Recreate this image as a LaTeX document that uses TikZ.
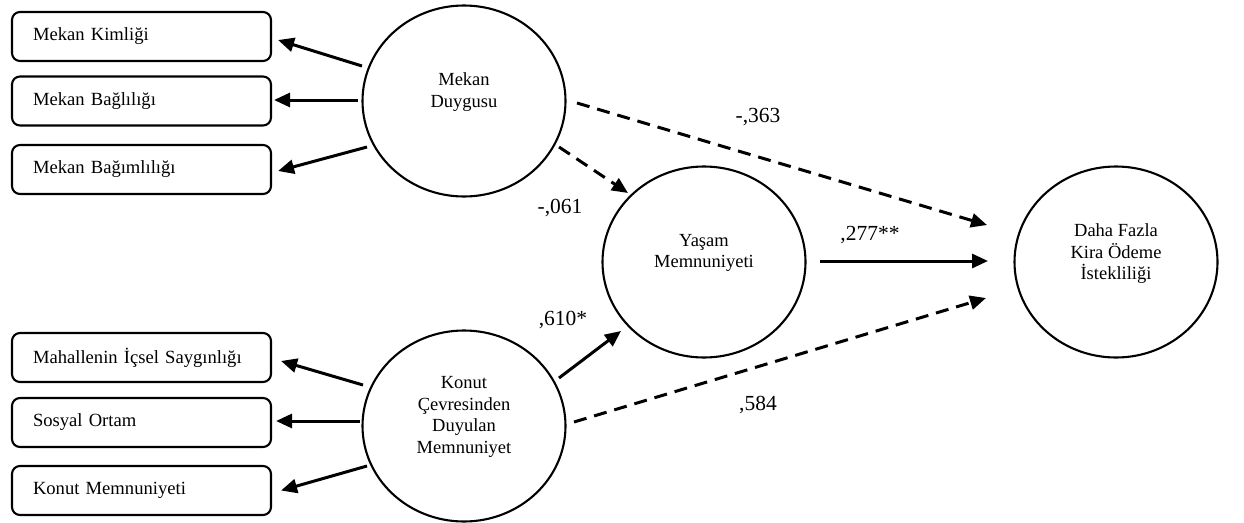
\documentclass[tikz,border=0pt]{standalone}
\usepackage{fontspec}
\setmainfont{Liberation Serif}
\usetikzlibrary{arrows.meta,shapes.geometric,calc}
\begin{document}
\begin{tikzpicture}[x=1pt,y=-1pt,
  itembox/.style={draw,line width=2.1pt,rounded corners=8pt,minimum height=49pt,
    text width=217pt,inner xsep=21pt,inner ysep=0pt,align=left,
    font=\fontsize{18.6}{22}\selectfont},
  latent/.style={draw,ellipse,line width=2.1pt,minimum width=203pt,
    minimum height=191pt,inner sep=0pt},
  lattext/.style={align=center,font=\fontsize{18.5}{21.5}\selectfont},
  coef/.style={font=\fontsize{21.5}{24}\selectfont,inner sep=0pt},
  path/.style={line width=3pt,-{Triangle[length=16pt,width=14pt]}},
  weak/.style={path,dash pattern=on 13pt off 8pt}
]
\useasboundingbox (0,0) rectangle (1244,522);

% indicator boxes
\node[itembox] (b1) at (141.5,36.5) {Mekan Kimliği};
\node[itembox] (b2) at (141.5,101) {Mekan Bağlılığı};
\node[itembox] (b3) at (141.5,169.5) {Mekan Bağımlılığı};
\node[itembox] (b4) at (141.5,357.5) {Mahallenin İçsel Saygınlığı};
\node[itembox] (b5) at (141.5,422.5) {Sosyal Ortam};
\node[itembox] (b6) at (141.5,490.5) {Konut Memnuniyeti};

% latent constructs
\node[latent,label={[lattext,yshift=9pt]center:Mekan\\Duygusu}] (md) at (464,101) {};
\node[latent,label={[lattext,yshift=9pt]center:Konut\\Çevresinden\\Duyulan\\Memnuniyet}] (kc) at (464,426) {};
\node[latent,label={[lattext,yshift=9pt]center:Yaşam\\Memnuniyeti}] (ym) at (704,262) {};
\node[latent,label={[lattext,yshift=8pt]center:Daha Fazla\\Kira Ödeme\\İstekliliği}] (dh) at (1116,262) {};

% measurement arrows
\draw[path] ($(md)+(-102,-35)$) -- ($(b1.east)+(6,3.5)$);
\draw[path] ($(md)+(-106,-1)$) -- ($(b2.east)+(2,-1)$);
\draw[path] ($(md)+(-97,46)$) -- ($(b3.east)+(6,1.5)$);
\draw[path] ($(kc)+(-101,-41)$) -- ($(b4.east)+(9,3.5)$);
\draw[path] ($(kc)+(-104,-5)$) -- ($(b5.east)+(4,-1.5)$);
\draw[path] ($(kc)+(-97,40)$) -- ($(b6.east)+(9,0)$);

% structural paths
\draw[weak] ($(md)+(95,46)$) -- ($(ym)+(-76,-69)$);
\draw[weak] ($(md)+(113,2)$) -- ($(dh)+(-129,-37)$);
\draw[path] ($(ym)+(116,-1)$) -- ($(dh)+(-128,-1)$);
\draw[path] ($(kc)+(95,-48)$) -- ($(ym)+(-83,69)$);
\draw[weak] ($(kc)+(110,-4)$) -- ($(dh)+(-130,36)$);

% path coefficients
\node[coef] (c1) at (758,117) {-,363};
\node[coef] (c2) at (560,208) {-,061};
\node[coef] (c3) at (563,320) {,610*};
\node[coef] (c4) at (758,405) {,584};
\node[coef] (c5) at (870,235) {,277**};
\end{tikzpicture}
\end{document}
